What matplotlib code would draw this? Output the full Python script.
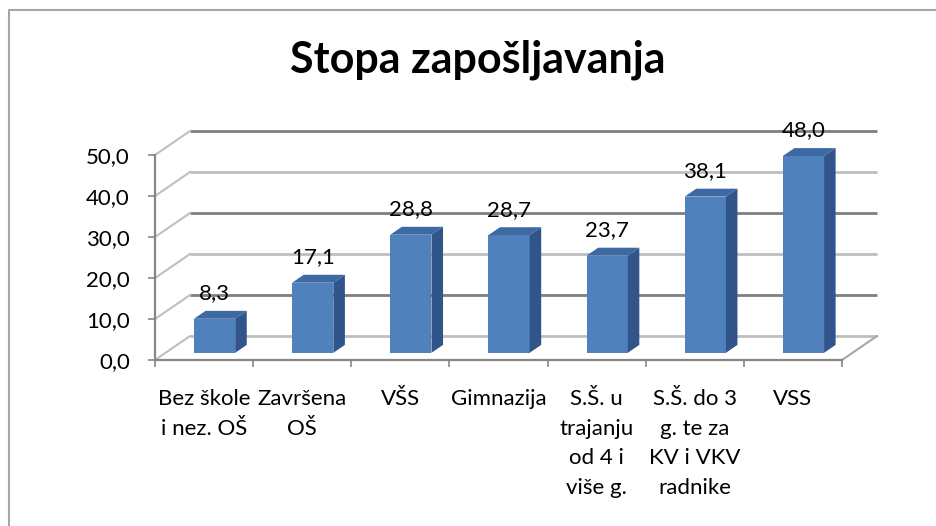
import matplotlib.pyplot as plt
from matplotlib.patches import Polygon
from matplotlib.lines import Line2D

plt.rcParams['font.family'] = ['Lato', 'DejaVu Sans']

# data
categories = ["Bez škole\ni nez. OŠ", "Završena\nOŠ", "VŠS", "Gimnazija",
              "S.Š. u\ntrajanju\nod 4 i\nviše g.",
              "S.Š. do 3\ng. te za\nKV i VKV\nradnike", "VSS"]
values = [8.3, 17.1, 28.8, 28.7, 23.7, 38.1, 48.0]
y_ticks = [0, 10, 20, 30, 40, 50]

# fake 3D: depth offset of the back wall, in data units
DX, DY = 0.357, 5.85
D0, D1 = 0.30, 0.63      # bar front / back depth (fraction of floor depth)
HW = 0.21                # half bar width
FS = 16

fig = plt.figure(figsize=(9.36, 5.26), dpi=100)
ax = fig.add_axes([155 / 936, 166 / 526, 687 / 936, 205 / 526])
n = len(values)
ax.set_xlim(-0.5, n - 0.5)
ax.set_ylim(0, 50)

# back wall gridlines + left wall diagonals
for k, t in enumerate(y_ticks):
    col = '#BFBFBF' if k % 2 == 0 else '#7F7F7F'
    ax.plot([-0.5 + DX, n - 0.5 + DX], [t + DY, t + DY], color=col, lw=2,
            clip_on=False, zorder=1, solid_capstyle='butt')
    ax.plot([-0.5, -0.5 + DX], [t, t + DY], color='#BFBFBF', lw=1.5,
            clip_on=False, zorder=1)
# right edge of the floor
ax.plot([n - 0.5, n - 0.5 + DX], [0, DY], color='#A6A6A6', lw=1.5,
        clip_on=False, zorder=1)

# bars
front_c, top_c, side_c = '#4F81BD', '#3D6AA2', '#31558A'
for i, v in enumerate(values):
    x0 = i + DX * D0 - HW
    x1 = i + DX * D0 + HW
    b = DY * D0
    ddx, ddy = DX * (D1 - D0), DY * (D1 - D0)
    front = Polygon([(x0, b), (x1, b), (x1, b + v), (x0, b + v)],
                    closed=True, fc=front_c, ec='none', zorder=3, clip_on=False)
    top = Polygon([(x0, b + v), (x1, b + v), (x1 + ddx, b + v + ddy),
                   (x0 + ddx, b + v + ddy)],
                  closed=True, fc=top_c, ec='none', zorder=3, clip_on=False)
    side = Polygon([(x1, b), (x1, b + v), (x1 + ddx, b + v + ddy),
                    (x1 + ddx, b + ddy)],
                   closed=True, fc=side_c, ec='none', zorder=3, clip_on=False)
    for p in (front, top, side):
        ax.add_patch(p)
    ax.annotate(f"{v:.1f}".replace('.', ','), (i + DX * D0, b + v),
                xytext=(0, 14), textcoords='offset points',
                ha='center', va='baseline', fontsize=FS, zorder=5,
                annotation_clip=False)

# axes
for s in ('top', 'right'):
    ax.spines[s].set_visible(False)
for s in ('left', 'bottom'):
    ax.spines[s].set_color('#868686')
    ax.spines[s].set_linewidth(1.6)
ax.set_yticks(y_ticks)
ax.set_yticklabels([f"{t:.1f}".replace('.', ',') for t in y_ticks])
ax.tick_params(axis='y', length=5, width=1.2, color='#868686', pad=13,
               labelsize=FS)
ax.set_xticks([i - 0.5 for i in range(n + 1)], minor=True)
ax.tick_params(axis='x', which='minor', length=5, width=1.2, color='#868686')
ax.tick_params(axis='x', which='major', length=0, pad=21, labelsize=FS)
ax.set_xticks(range(n))
ax.set_xticklabels(categories, linespacing=1.6, multialignment='center',
                   fontsize=FS)
ax.patch.set_visible(False)

# title
fig.text(478 / 936, 1 - 73 / 526, "Stopa zapošljavanja", fontsize=31,
         fontweight='bold', ha='center', va='baseline')

# chart frame (clipped at right/bottom as in the original)
fig.add_artist(Line2D([9 / 936, 9 / 936, 1], [0, 1 - 10 / 526, 1 - 10 / 526],
                      transform=fig.transFigure, color='#A6A6A6', lw=1.5))

fig.savefig('out.png', dpi=100)
